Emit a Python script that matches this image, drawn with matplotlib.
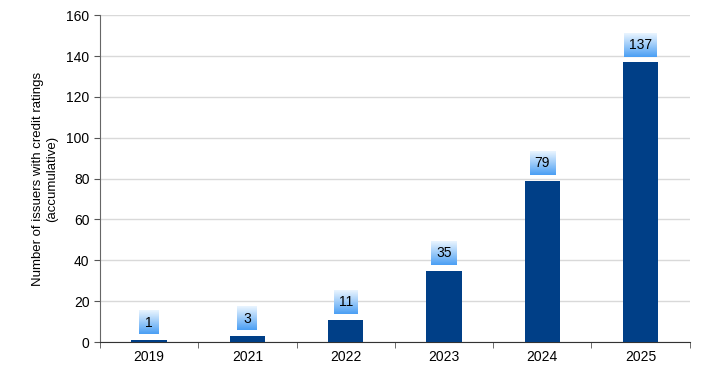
import matplotlib
matplotlib.use("Agg")
import matplotlib.pyplot as plt
import numpy as np
from matplotlib.colors import LinearSegmentedColormap

years = ["2019", "2021", "2022", "2023", "2024", "2025"]
issuers = [1, 3, 11, 35, 79, 137]
y_ticks = [0, 20, 40, 60, 80, 100, 120, 140, 160]
ylabel = "Number of issuers with credit ratings\n(accumulative)"

plt.rcParams['font.family'] = ['Liberation Sans', 'DejaVu Sans']

fig = plt.figure(figsize=(7.14, 3.79), dpi=100)
ax = fig.add_axes([0.140, 0.0976, 0.826, 0.8624])

x = np.arange(len(years))
ax.bar(x, issuers, width=0.36, color="#003f87", zorder=3)

ax.set_xlim(-0.5, len(years) - 0.5)
ax.set_ylim(0, 160)

texts = []
for xi, v in zip(x, issuers):
    t = ax.annotate(str(v), (xi, v), xytext=(0, 12.5), textcoords="offset points",
                    ha="center", va="center", fontsize=10, color="black", zorder=6,
                    bbox=dict(boxstyle="square,pad=0.35", fc="none", ec="none"))
    texts.append(t)

fig.canvas.draw()
cmap = LinearSegmentedColormap.from_list("lbl", ["#4b9ff4", "#9ccbf9", "#eaf5ff"])
grad = np.linspace(0, 1, 64).reshape(-1, 1)
inv = ax.transData.inverted()
for t in texts:
    bb = t.get_bbox_patch().get_window_extent()
    w = max(bb.width, 20)
    cx = (bb.x0 + bb.x1) / 2
    (x0, y0) = inv.transform((cx - w / 2, bb.y0))
    (x1, y1) = inv.transform((cx + w / 2, bb.y1))
    ax.imshow(grad, cmap=cmap, extent=(x0, x1, y0, y1), origin="lower",
              aspect="auto", zorder=5, interpolation="bilinear")

ax.set_xlim(-0.5, len(years) - 0.5)
ax.set_ylim(0, 160)
ax.set_yticks(y_ticks)
ax.set_xticks(x)
ax.set_xticklabels(years, fontsize=10)
ax.set_xticks(np.arange(len(years) + 1) - 0.5, minor=True)
ax.tick_params(axis="x", which="major", length=0, pad=6)
ax.tick_params(axis="x", which="minor", length=4, direction="out", color="#555555")
ax.tick_params(axis="y", length=4, direction="out", color="#555555", labelsize=10)
ax.yaxis.grid(True, color="#d9d9d9", linewidth=1, zorder=0)
ax.set_axisbelow(True)
for s in ["top", "right"]:
    ax.spines[s].set_visible(False)
ax.spines["left"].set_color("#666666")
ax.spines["bottom"].set_color("#333333")
ax.set_ylabel(ylabel, fontsize=9.5, labelpad=6)

fig.savefig("out.png", dpi=100)
